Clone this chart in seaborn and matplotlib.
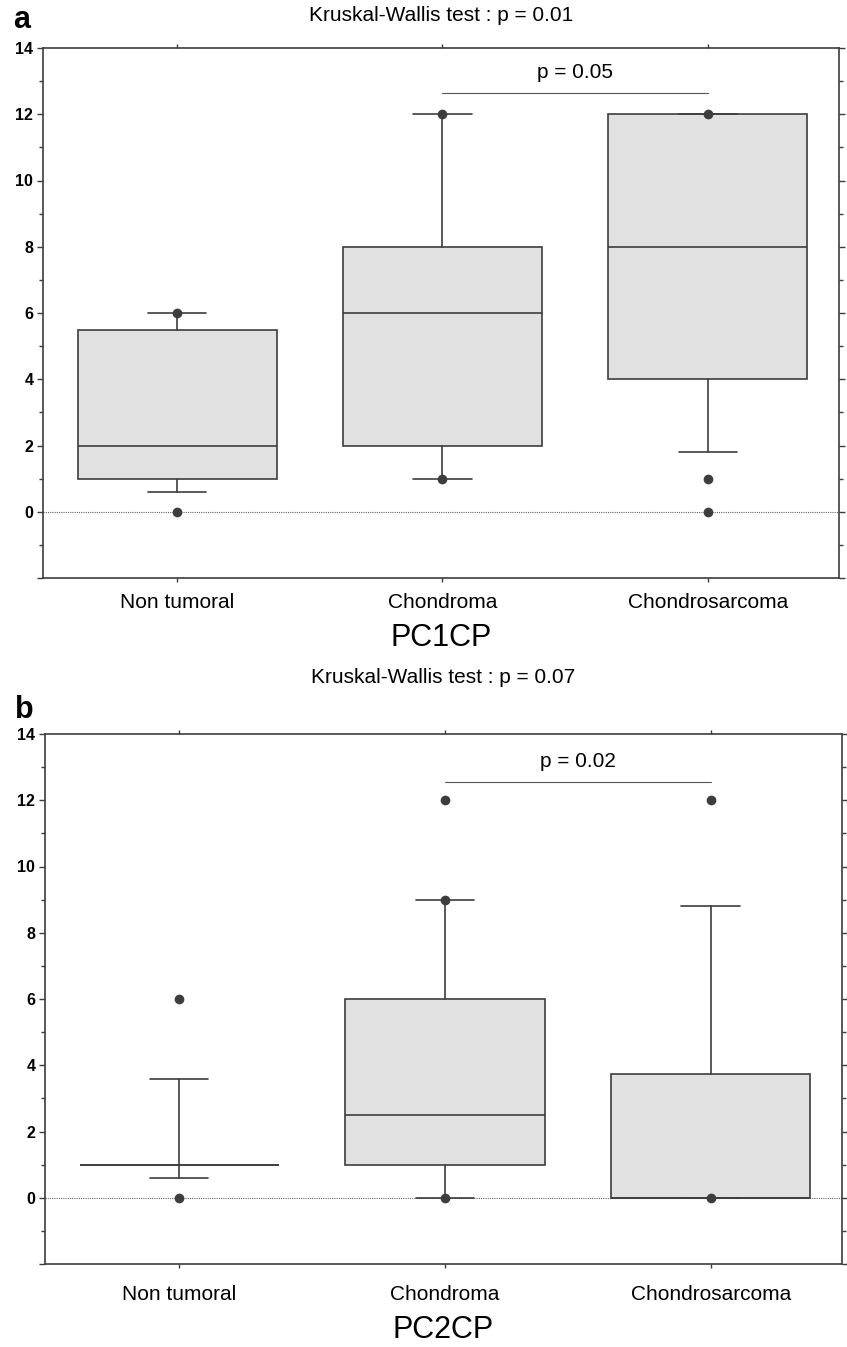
import numpy as np
import pandas as pd
import matplotlib
matplotlib.use("Agg")
import matplotlib.pyplot as plt
import seaborn as sns

# ---------------- data ----------------
categories = ["Non tumoral", "Chondroma", "Chondrosarcoma"]

# Panel a : PC1CP
a_q1 = [1.0, 2.0, 4.0]
a_med = [2.0, 6.0, 8.0]
a_q3 = [5.5, 8.0, 12.0]
a_whislo = [0.6, 1.0, 1.8]
a_whishi = [6.0, 12.0, 12.0]
a_points = [[6, 0], [12, 1], [12, 1, 0]]
a_title = "Kruskal-Wallis test : p = 0.01"
a_pair_p = "p = 0.05"
a_xlabel = "PC1CP"

# Panel b : PC2CP
b_q1 = [1.0, 1.0, 0.0]
b_med = [1.0, 2.5, 0.0]
b_q3 = [1.0, 6.0, 3.75]
b_whislo = [0.6, 0.0, 0.0]
b_whishi = [3.6, 9.0, 8.8]
b_points = [[6, 0], [12, 9, 0], [12, 0]]
b_title = "Kruskal-Wallis test : p = 0.07"
b_pair_p = "p = 0.02"
b_xlabel = "PC2CP"

y_ticks = [-2, 0, 2, 4, 6, 8, 10, 12, 14]
y_tick_labels = ["", "0", "2", "4", "6", "8", "10", "12", "14"]
y_minor = [-1, 1, 3, 5, 7, 9, 11, 13]

# ---------------- style ----------------
sns.set_style("ticks")
plt.rcParams["font.family"] = ["Liberation Sans", "DejaVu Sans"]
plt.rcParams["text.color"] = "black"
plt.rcParams["axes.labelcolor"] = "black"
plt.rcParams["xtick.color"] = "black"
plt.rcParams["ytick.color"] = "black"

DARK = "#3d3d3d"
FILL = "#e1e1e1"

fig = plt.figure(figsize=(8.47, 13.47), dpi=100)
ax_a = fig.add_axes([43 / 847, 1 - 578 / 1347, 796 / 847, 530 / 1347])
ax_b = fig.add_axes([45 / 847, 1 - 1264 / 1347, 797 / 847, 530 / 1347])


def draw_panel(ax, q1, med, q3, wlo, whi, points, title, pair_p, xlabel,
               letter, title_y, letter_y, label_pad, xlabel_pad, sig_y):
    stats = []
    for i, c in enumerate(categories):
        stats.append(dict(label=c, q1=q1[i], med=med[i], q3=q3[i],
                          whislo=wlo[i], whishi=whi[i], fliers=[]))
    ax.axhline(0, color="#666666", linestyle=(0, (1, 1)), linewidth=0.8, zorder=0.5)
    ax.bxp(stats, positions=list(range(len(categories))), widths=0.75,
           capwidths=0.22, patch_artist=True, showfliers=False, manage_ticks=False,
           boxprops=dict(facecolor=FILL, edgecolor=DARK, linewidth=1.2),
           medianprops=dict(color=DARK, linewidth=1.2),
           whiskerprops=dict(color=DARK, linewidth=1.2),
           capprops=dict(color=DARK, linewidth=1.2))
    df = pd.DataFrame([(c, v) for c, vals in zip(categories, points) for v in vals],
                      columns=["group", "value"])
    sns.stripplot(data=df, x="group", y="value", order=categories, jitter=False,
                  color=DARK, size=7, linewidth=0, ax=ax, zorder=5)
    # significance bracket between Chondroma and Chondrosarcoma
    ax.plot([1, 2], [sig_y, sig_y], color="#555555", linewidth=0.8)
    ax.text(1.5, sig_y + 0.62, pair_p, ha="center", va="center", fontsize=15,
            color="black")

    ax.set_xlim(-0.505, 2.494)
    ax.set_ylim(-2, 14)
    ax.set_xticks(range(len(categories)))
    ax.set_xticklabels(categories, fontsize=15, color="black")
    ax.set_yticks(y_ticks)
    ax.set_yticklabels(y_tick_labels, fontsize=11.5, fontweight="bold", color="black")
    ax.set_yticks(y_minor, minor=True)
    ax.set_xlabel(xlabel, fontsize=22, labelpad=xlabel_pad, color="black")
    ax.set_ylabel("")
    for s in ax.spines.values():
        s.set_visible(True)
        s.set_color(DARK)
        s.set_linewidth(1.2)
    ax.tick_params(axis="y", which="major", left=True, right=True, direction="out",
                   length=4, width=1.0, color=DARK, pad=3)
    ax.tick_params(axis="y", which="minor", left=True, right=True, direction="out",
                   length=3, width=1.0, color=DARK)
    ax.tick_params(axis="x", which="major", bottom=True, top=True, direction="out",
                   length=3, width=1.0, color=DARK, pad=label_pad)
    ax.text(0.5, title_y, title, transform=ax.transAxes, ha="center", va="center",
            fontsize=15, color="black")
    ax.text(-0.038, letter_y, letter, transform=ax.transAxes, ha="left", va="center",
            fontsize=22, fontweight="bold", color="black")
    ax.grid(False)


draw_panel(ax_a, a_q1, a_med, a_q3, a_whislo, a_whishi, a_points, a_title,
           a_pair_p, a_xlabel, "a", 1.062, 1.052, 8, 8, 12.63)
draw_panel(ax_b, b_q1, b_med, b_q3, b_whislo, b_whishi, b_points, b_title,
           b_pair_p, b_xlabel, "b", 1.106, 1.046, 12, 8, 12.56)

fig.savefig("out.png", dpi=100)
